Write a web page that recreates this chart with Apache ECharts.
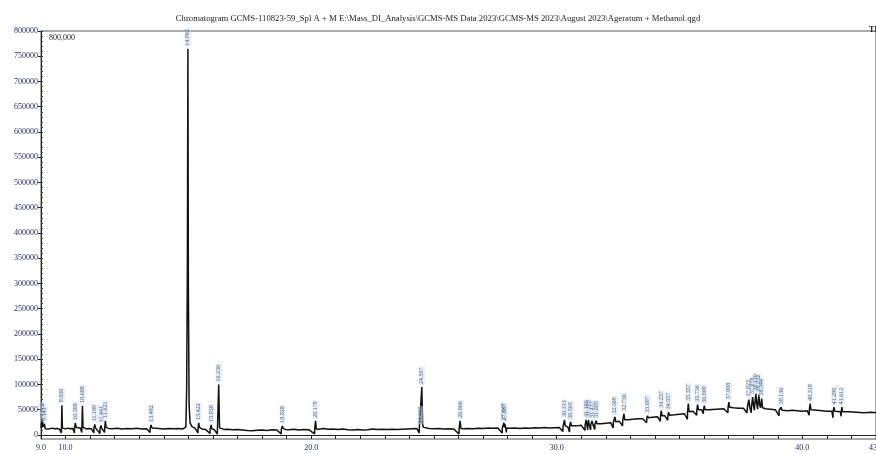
<!DOCTYPE html>
<html>
<head>
<meta charset="utf-8">
<script src="https://cdn.jsdelivr.net/npm/echarts@6/dist/echarts.min.js"></script>
<style>
  html, body { margin: 0; padding: 0; background: #fff; }
  #chart { width: 876px; height: 454px; }
</style>
</head>
<body>
<div id="chart"></div>
<script>
// TIC trace, retention time (min) vs. counts, split into time windows
const traceA = [
  [9.00, 14000], [9.02, 24000], [9.04, 15000], [9.062, 30000], [9.08, 16000], [9.10, 13000],
  [9.141, 22000], [9.17, 12500], [9.25, 14000], [9.35, 12000], [9.45, 13500], [9.55, 12500],
  [9.65, 13000], [9.75, 12000], [9.80, 13500], [9.83, 4000], [9.835, 13000], [9.850, 59000],
  [9.87, 14000], [9.90, 12500], [10.00, 12000], [10.10, 13500], [10.20, 12500], [10.30, 13000],
  [10.36, 4000], [10.365, 13500], [10.398, 24000], [10.43, 15000], [10.50, 13000], [10.60, 14000],
  [10.66, 5000], [10.665, 14000], [10.688, 58000], [10.71, 15000], [10.75, 13000], [10.85, 12000],
  [10.95, 13000], [11.05, 12500], [11.15, 4000], [11.155, 13000], [11.189, 21000], [11.22, 14000],
  [11.30, 13000], [11.40, 3000], [11.405, 13000], [11.441, 19000], [11.47, 13500], [11.55, 13000],
  [11.59, 5000], [11.595, 14000], [11.621, 28000], [11.65, 15000], [11.75, 13000], [11.90, 12500],
  [12.10, 13500], [12.30, 12000], [12.50, 13000], [12.70, 12500], [12.90, 13500], [13.10, 12000],
  [13.30, 12500], [13.44, 5000], [13.445, 13000], [13.482, 20000], [13.52, 14000], [13.60, 12500],
  [13.80, 13000], [14.00, 12000], [14.20, 13000], [14.40, 12500], [14.60, 13000], [14.78, 12000]
];
const traceB = [
  [14.86, 12500], [14.90, 16000], [14.93, 90000], [14.96, 330000], [14.982, 765000], [15.00, 300000],
  [15.03, 60000], [15.07, 24000], [15.14, 17000], [15.28, 13000], [15.39, 4000], [15.395, 13000],
  [15.422, 24000], [15.45, 15000], [15.55, 12000], [15.70, 11000], [15.88, 3000], [15.885, 11500],
  [15.930, 20000], [15.96, 12000], [16.05, 11000], [16.18, 2000], [16.185, 12000], [16.236, 100000],
  [16.27, 14000], [16.32, 12000], [16.45, 11000], [16.60, 11500], [16.80, 10500], [17.00, 11000],
  [17.20, 10000], [17.40, 9000], [17.60, 8500], [17.80, 9500], [18.00, 10000], [18.20, 9000],
  [18.40, 10500], [18.60, 10000], [18.78, 2000], [18.785, 11000], [18.828, 18000], [18.86, 13000],
  [18.95, 11000], [19.10, 10500], [19.30, 11500], [19.50, 10000], [19.70, 11000], [19.90, 10500],
  [20.14, 2000], [20.145, 11000], [20.179, 28000], [20.21, 12000], [20.30, 11500], [20.50, 13000],
  [20.70, 11500], [20.90, 12000], [21.10, 11000], [21.30, 12000], [21.50, 10500], [21.70, 10000],
  [21.90, 11000], [22.10, 10000], [22.30, 10500], [22.50, 12000], [22.70, 11000], [22.90, 11500],
  [23.10, 11000], [23.30, 11500], [23.50, 11000], [23.70, 11500], [23.90, 12000], [24.10, 12500],
  [24.30, 13000], [24.40, 4000], [24.405, 13500], [24.443, 17000], [24.47, 14000], [24.507, 95000],
  [24.54, 20000], [24.58, 15000], [24.65, 13500], [24.80, 13000], [25.00, 12500], [25.20, 13000],
  [25.40, 12000], [25.60, 12500], [25.80, 12000], [26.02, 2000], [26.025, 12000], [26.066, 28000],
  [26.10, 13000], [26.20, 12500], [26.40, 13000], [26.60, 12500], [26.80, 13500], [27.00, 13000],
  [27.20, 14000], [27.40, 13500], [27.60, 14000], [27.78, 4000], [27.785, 14000], [27.849, 24000],
  [27.87, 15000], [27.887, 22000], [27.92, 14000], [27.95, 5000], [27.955, 14000], [28.10, 13500],
  [28.30, 14000], [28.50, 13000], [28.70, 14000], [28.90, 13500], [29.10, 14500], [29.30, 14000],
  [29.50, 15000], [29.70, 14000], [29.90, 14500]
];
const traceC = [
  [30.10, 15000], [30.25, 7000], [30.255, 16000], [30.313, 30000], [30.35, 18000], [30.45, 16000],
  [30.52, 6000], [30.525, 17000], [30.565, 26000], [30.60, 18000], [30.80, 18000], [31.00, 19000],
  [31.15, 9000], [31.155, 19000], [31.196, 30000], [31.23, 20000], [31.26, 10000], [31.265, 20000],
  [31.293, 30000], [31.32, 20000], [31.38, 10000], [31.385, 20000], [31.437, 28000], [31.47, 21000],
  [31.55, 11000], [31.555, 21000], [31.605, 28000], [31.64, 22000], [31.80, 22000], [32.00, 23000],
  [32.20, 24000], [32.30, 14000], [32.305, 25000], [32.369, 36000], [32.40, 26000], [32.55, 27000],
  [32.68, 18000], [32.685, 28000], [32.736, 42000], [32.77, 30000], [32.90, 30000], [33.10, 31000],
  [33.30, 32000], [33.50, 32000], [33.66, 24000], [33.665, 33000], [33.697, 38000], [33.73, 34000],
  [33.90, 35000], [34.10, 36000], [34.22, 27000], [34.225, 37000], [34.257, 48000], [34.29, 38000],
  [34.40, 38000], [34.52, 29000], [34.525, 38000], [34.557, 45000], [34.59, 39000], [34.80, 40000],
  [35.00, 41000], [35.20, 42000], [35.32, 31000], [35.325, 44000], [35.357, 62000], [35.39, 46000],
  [35.55, 47000], [35.70, 39000], [35.705, 49000], [35.736, 60000], [35.77, 50000], [35.90, 50000],
  [35.97, 42000], [35.975, 50000], [36.009, 58000], [36.04, 50000], [36.20, 50000], [36.50, 51000],
  [36.80, 52000], [36.97, 44000], [36.975, 53000], [37.008, 65000], [37.04, 55000], [37.20, 54000],
  [37.40, 53000], [37.60, 53000], [37.75, 44000], [37.76, 54000], [37.823, 70000], [37.86, 55000],
  [37.92, 44000], [37.93, 56000], [37.978, 75000], [38.01, 58000], [38.05, 49000], [38.06, 60000],
  [38.110, 82000], [38.14, 62000], [38.18, 51000], [38.19, 62000], [38.232, 80000], [38.26, 60000],
  [38.30, 54000], [38.31, 58000], [38.344, 72000], [38.38, 54000], [38.50, 52000], [38.70, 51000],
  [38.90, 50000], [39.05, 38000], [39.055, 49000], [39.136, 55000], [39.17, 49000], [39.40, 48000],
  [39.60, 49000], [39.80, 48000], [40.00, 47000], [40.20, 48000], [40.28, 39000], [40.285, 49000],
  [40.319, 62000], [40.35, 50000], [40.60, 49000], [40.80, 48000], [41.00, 47000], [41.20, 47000],
  [41.25, 34000], [41.255, 47000], [41.290, 55000], [41.32, 47000], [41.55, 46000], [41.58, 37000],
  [41.585, 46000], [41.612, 55000], [41.64, 46000], [41.90, 46000], [42.20, 45000], [42.50, 44000],
  [42.80, 45000], [43.00, 44000]
];

// Retention times printed above the integrated peaks
const peakLabels = [
  '9.062', '9.141', '9.850', '10.398', '10.688', '11.189', '11.441', '11.621', '13.482',
  '14.982', '15.422', '15.930', '16.236', '18.828', '20.179', '24.443', '24.507', '26.066',
  '27.849', '27.887', '30.313', '30.565', '31.196', '31.293', '31.437', '31.605', '32.369',
  '32.736', '33.697', '34.257', '34.557', '35.357', '35.736', '36.009', '37.008', '37.823',
  '37.978', '38.110', '38.232', '38.344', '39.136', '40.319', '41.290', '41.612'
];

// Axis ticks
const yLabelValues = [0, 50000, 100000, 150000, 200000, 250000, 300000, 350000, 400000,
  450000, 500000, 550000, 600000, 650000, 700000, 750000, 800000];
const yMinorValues = [];
for (let v = 0; v <= 800000; v += 10000) yMinorValues.push(v);
const xTickValues = [];
for (let t = 9; t <= 43; t += 1) xTickValues.push(t);
const xLabelValues = [9, 10, 20, 30, 40, 43];

const titleText = 'Chromatogram GCMS-110823-59_Spl A + M E:\\Mass_DI_Analysis\\GCMS-MS Data 2023\\GCMS-MS 2023\\August 2023\\Ageratum + Methanol.qgd';

const trace = traceA.concat(traceB, traceC);
const peakPoints = peakLabels.map(function (lbl) {
  const rt = parseFloat(lbl);
  const pt = trace.find(function (p) { return Math.abs(p[0] - rt) < 1e-9; });
  return { value: [rt, pt ? pt[1] : 0], label: { formatter: lbl } };
});

const serif = '"Liberation Serif", "DejaVu Serif", serif';
const navy = '#1c2659';

const chart = echarts.init(document.getElementById('chart'), null, { renderer: 'canvas' });
chart.setOption({
  animation: false,
  backgroundColor: '#ffffff',
  title: [
    { text: titleText, left: 'center', top: 9,
      textStyle: { fontFamily: serif, fontSize: 8.7, fontWeight: 'normal', color: '#222' } },
    { text: 'TIC', left: 864, top: 21,
      textStyle: { fontFamily: serif, fontSize: 8, fontWeight: 'bold', color: '#222' } },
    { text: '800,000', left: 44, top: 29,
      textStyle: { fontFamily: serif, fontSize: 8, fontWeight: 'normal', color: '#222' } }
  ],
  grid: { left: 41, right: 0, top: 31, bottom: 15, show: true, borderColor: '#555', borderWidth: 1,
    outerBoundsMode: 'none', containLabel: false },
  xAxis: {
    type: 'value', min: 9, max: 43,
    axisLine: { show: true, lineStyle: { color: '#222', width: 1 } },
    axisTick: { show: true, customValues: xTickValues, length: 4, lineStyle: { color: '#222' } },
    axisLabel: { customValues: xLabelValues, formatter: function (v) { return v.toFixed(1); },
      fontFamily: serif, fontSize: 8, color: navy, margin: 5 },
    splitLine: { show: false }
  },
  yAxis: [
    {
      type: 'value', min: -8000, max: 800000,
      axisLine: { show: true, lineStyle: { color: '#222', width: 1 } },
      axisTick: { show: true, customValues: yLabelValues, length: 3, lineStyle: { color: '#222' } },
      axisLabel: { customValues: yLabelValues, formatter: function (v) { return String(v); },
        fontFamily: serif, fontSize: 8, color: navy, margin: 3 },
      splitLine: { show: false }
    },
    {
      type: 'value', min: -8000, max: 800000, position: 'left',
      axisLine: { show: false },
      axisTick: { show: true, inside: true, customValues: yMinorValues, length: 2, lineStyle: { color: '#444' } },
      axisLabel: { show: false },
      splitLine: { show: false }
    }
  ],
  series: [
    {
      type: 'line', data: trace, yAxisIndex: 0, symbol: 'none',
      lineStyle: { color: '#111', width: 1.5 }, z: 3
    },
    {
      type: 'scatter', data: peakPoints, yAxisIndex: 0, symbolSize: 0, z: 4,
      label: {
        show: true, position: 'top', rotate: 90, align: 'left', verticalAlign: 'middle',
        distance: 2, fontFamily: serif, fontSize: 6, color: '#24365a',
        backgroundColor: 'rgba(205,222,240,0.6)', padding: [0, 1]
      }
    }
  ]
});
</script>
</body>
</html>
